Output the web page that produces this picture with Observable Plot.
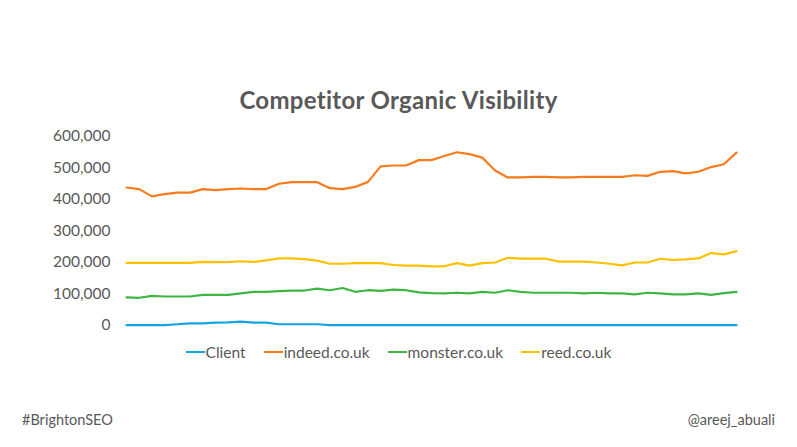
<!DOCTYPE html>
<html>
<head>
<meta charset="utf-8">
<script src="https://cdn.jsdelivr.net/npm/d3@7"></script>
<script src="https://cdn.jsdelivr.net/npm/@observablehq/plot@0.6"></script>
<style>
  html, body { margin: 0; padding: 0; background: #fff; }
  #wrap { position: relative; width: 797px; height: 447px; overflow: hidden; font-family: Lato, "Open Sans", sans-serif; color: #595959; }
  #title { position: absolute; left: 0; width: 797px; top: 85px; text-align: center; font-weight: 700; font-size: 24px; letter-spacing: 0.3px; color: #595959; }
  #legend { position: absolute; left: 0; width: 797px; top: 343px; display: flex; justify-content: center; gap: 18px; font-size: 15.5px; color: #595959; }
  #legend .item { display: flex; align-items: center; }
  #legend .sw { display: inline-block; width: 19px; height: 2.5px; margin-right: 1px; }
  .foot { position: absolute; top: 411px; font-size: 14.5px; color: #595959; }
  #plot { position: absolute; left: 0; top: 0; }
</style>
</head>
<body>
<div id="wrap">
  <div id="plot"></div>
  <div id="title">Competitor Organic Visibility</div>
  <div id="legend"></div>
  <div class="foot" style="left:22px">#BrightonSEO</div>
  <div class="foot" style="right:22px">@areej_abuali</div>
</div>
<script>
const seriesNames = ["Client", "indeed.co.uk", "monster.co.uk", "reed.co.uk"];
const seriesColors = ["#16a3e2", "#f97b1c", "#3db642", "#ffc000"];
const yTicks = [0, 100000, 200000, 300000, 400000, 500000, 600000];

const client = [1000,1000,1000,1500,4000,7000,7000,9000,10000,12000,9000,9000,4000,4000,4000,4000,1000,1000,1000,1000,1000,1000,1000,1000,1000,1000,1000,1000,1000,1000,1000,1000,1000,1000,1000,1000,1000,1000,1000,1000,1000,1000,1000,1000,1000,1000,1000,1000,1000];
const indeed = [438000,433000,410000,417000,422000,422000,433000,430000,433000,435000,433000,433000,450000,455000,455000,455000,436000,433000,440000,456000,505000,508000,508000,525000,525000,538000,550000,544000,533000,492000,470000,470000,472000,472000,470000,470000,472000,472000,472000,472000,477000,475000,488000,490000,483000,488000,503000,512000,549000];
const monster = [89000,88000,94000,92000,92000,92000,97000,97000,97000,102000,107000,107000,109000,111000,111000,117000,112000,119000,107000,112000,110000,114000,112000,105000,103000,102000,104000,102000,107000,104000,112000,107000,104000,104000,104000,104000,102000,104000,102000,102000,99000,104000,102000,99000,99000,102000,97000,103000,107000];
const reed = [199000,199000,199000,199000,199000,199000,202000,201000,201000,204000,202000,207000,213000,213000,211000,206000,196000,196000,198000,198000,198000,192000,190000,190000,188000,188000,198000,190000,198000,200000,215000,212000,212000,212000,203000,203000,203000,200000,196000,191000,200000,200000,212000,208000,210000,213000,230000,226000,236000];

const seriesValues = [client, indeed, monster, reed];
const data = [];
seriesNames.forEach((name, s) => {
  seriesValues[s].forEach((v, i) => data.push({series: name, i, value: v}));
});

const chart = Plot.plot({
  width: 797,
  height: 447,
  marginLeft: 126,
  marginRight: 61,
  marginTop: 136,
  marginBottom: 122,
  style: {fontFamily: "Lato, 'Open Sans', sans-serif", fontSize: "15.5px", color: "#595959", background: "transparent"},
  x: {domain: [0, 48], axis: null},
  y: {domain: [0, 600000], ticks: yTicks, tickFormat: d => d3.format(",")(d), tickSize: 0, tickPadding: 16, label: null},
  color: {domain: seriesNames, range: seriesColors},
  marks: [
    Plot.lineY(data, {x: "i", y: "value", z: "series", stroke: "series", strokeWidth: 2.2, curve: "linear"})
  ]
});
document.getElementById("plot").appendChild(chart);

const legend = document.getElementById("legend");
seriesNames.forEach((name, s) => {
  const item = document.createElement("span");
  item.className = "item";
  const sw = document.createElement("span");
  sw.className = "sw";
  sw.style.background = seriesColors[s];
  item.appendChild(sw);
  item.appendChild(document.createTextNode(name));
  legend.appendChild(item);
});
</script>
</body>
</html>
